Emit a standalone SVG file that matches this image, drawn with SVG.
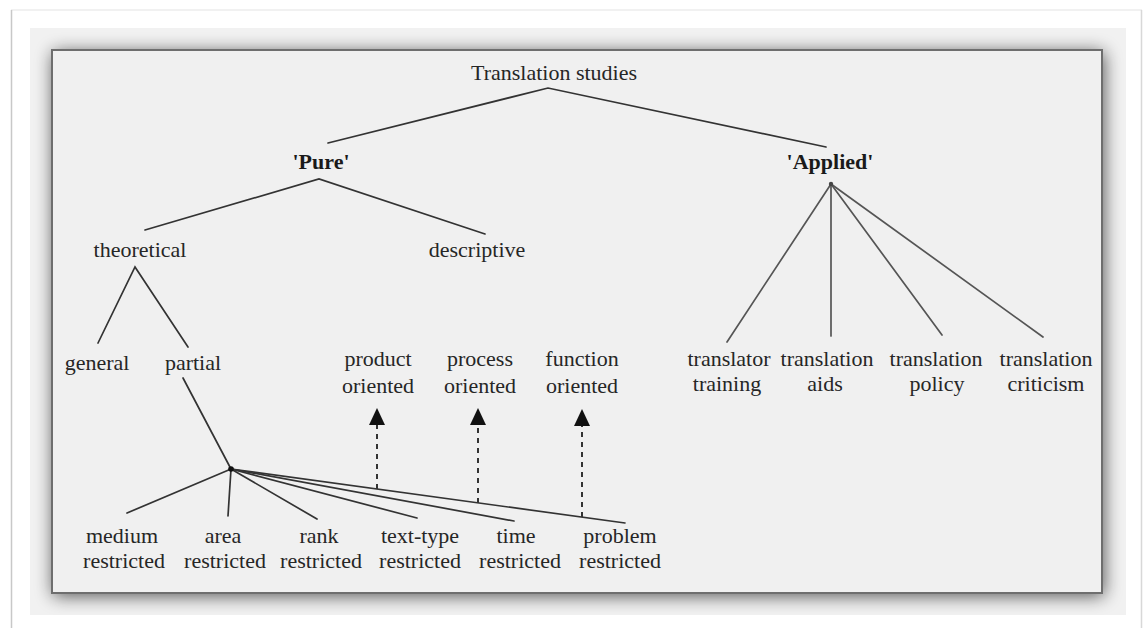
<svg xmlns="http://www.w3.org/2000/svg" width="1145" height="628" viewBox="0 0 1145 628">
<defs>
<style>
.t{font-family:"Liberation Serif","Times New Roman",serif;font-size:22px;fill:#262626;text-anchor:middle}
.b{font-weight:bold;fill:#1a1a1a}
.ln{stroke:#333;stroke-width:1.7;fill:none;stroke-linecap:round}
.lf{stroke:#555;stroke-width:1.7;fill:none;stroke-linecap:round}
.ds{stroke:#333;stroke-width:2;stroke-dasharray:5 5;fill:none}
</style>
<filter id="sh" x="-10%" y="-10%" width="120%" height="120%"><feGaussianBlur stdDeviation="9"/></filter>
<clipPath id="pc"><rect x="30" y="28" width="1096" height="587"/></clipPath>
<marker id="ah" viewBox="0 -9 18 18" markerWidth="18" markerHeight="18" refX="0" refY="0" orient="auto" markerUnits="userSpaceOnUse">
<path d="M0,-8 L17,0 L0,8 z" fill="#111"/>
</marker>
</defs>
<rect width="1145" height="628" fill="#fff"/>
<g id="frame">
<line x1="11" y1="10" x2="1142" y2="10" stroke="#ececec" stroke-width="1.5"/>
<line x1="11.5" y1="10" x2="11.5" y2="628" stroke="#c8c8c8" stroke-width="1.5"/>
<line x1="1141.5" y1="10" x2="1141.5" y2="628" stroke="#d8d8d8" stroke-width="1.5"/>
<rect x="30" y="28" width="1096" height="587" fill="#f1f1f1"/>
<g clip-path="url(#pc)"><rect x="53" y="52" width="1051" height="544" fill="#000" opacity="0.65" filter="url(#sh)"/></g>
<rect x="52" y="50" width="1050" height="543" fill="#f0f0f0" stroke="#6e6e6e" stroke-width="2"/>
</g>
<g id="connectors">
<polyline class="ln" points="328,143 548,88 826,147"/>
<polyline class="ln" points="145,230 319,179 485,234"/>
<polyline class="ln" points="98,343 135,267 188,347"/>
<line class="ln" x1="183" y1="378" x2="231" y2="469"/>
<line class="ln" x1="231" y1="469" x2="127" y2="513"/>
<line class="ln" x1="231" y1="469" x2="228" y2="516"/>
<line class="ln" x1="231" y1="469" x2="317" y2="519"/>
<line class="ln" x1="231" y1="469" x2="417" y2="518"/>
<line class="ln" x1="231" y1="469" x2="514" y2="521"/>
<line class="ln" x1="231" y1="469" x2="625" y2="523"/>
<circle cx="231" cy="469" r="2.8" fill="#111"/>
<line class="ds" x1="377" y1="489" x2="377" y2="425" marker-end="url(#ah)"/>
<line class="ds" x1="478" y1="503" x2="478" y2="425" marker-end="url(#ah)"/>
<line class="ds" x1="582" y1="517" x2="582" y2="426" marker-end="url(#ah)"/>
<line class="lf" x1="831" y1="184" x2="727" y2="342"/>
<line class="lf" x1="831" y1="184" x2="831" y2="336"/>
<line class="lf" x1="831" y1="184" x2="942" y2="335"/>
<line class="lf" x1="831" y1="184" x2="1043" y2="337"/>
<circle cx="831" cy="184" r="2.2" fill="#444"/>
</g>
<g id="n-translation-studies"><text class="t" x="554" y="80">Translation studies</text></g>
<g id="n-pure"><text class="t b" x="321" y="169">'Pure'</text></g>
<g id="n-applied"><text class="t b" x="830" y="169">'Applied'</text></g>
<g id="n-theoretical"><text class="t" x="140" y="257">theoretical</text></g>
<g id="n-descriptive"><text class="t" x="477" y="257">descriptive</text></g>
<g id="n-general"><text class="t" x="97" y="370">general</text></g>
<g id="n-partial"><text class="t" x="193" y="370">partial</text></g>
<g id="n-product"><text class="t" x="378" y="366">product</text><text class="t" x="378" y="393">oriented</text></g>
<g id="n-process"><text class="t" x="480" y="366">process</text><text class="t" x="480" y="393">oriented</text></g>
<g id="n-function"><text class="t" x="582" y="366">function</text><text class="t" x="582" y="393">oriented</text></g>
<g id="n-translator-training"><text class="t" x="729" y="366">translator</text><text class="t" x="727" y="391">training</text></g>
<g id="n-translation-aids"><text class="t" x="827" y="366">translation</text><text class="t" x="825" y="391">aids</text></g>
<g id="n-translation-policy"><text class="t" x="936" y="366">translation</text><text class="t" x="937" y="391">policy</text></g>
<g id="n-translation-criticism"><text class="t" x="1046" y="366">translation</text><text class="t" x="1046" y="391">criticism</text></g>
<g id="n-medium"><text class="t" x="122" y="543">medium</text><text class="t" x="124" y="568">restricted</text></g>
<g id="n-area"><text class="t" x="223" y="543">area</text><text class="t" x="225" y="568">restricted</text></g>
<g id="n-rank"><text class="t" x="319" y="543">rank</text><text class="t" x="321" y="568">restricted</text></g>
<g id="n-text-type"><text class="t" x="420" y="543">text-type</text><text class="t" x="420" y="568">restricted</text></g>
<g id="n-time"><text class="t" x="516" y="543">time</text><text class="t" x="520" y="568">restricted</text></g>
<g id="n-problem"><text class="t" x="620" y="543">problem</text><text class="t" x="620" y="568">restricted</text></g>
</svg>
